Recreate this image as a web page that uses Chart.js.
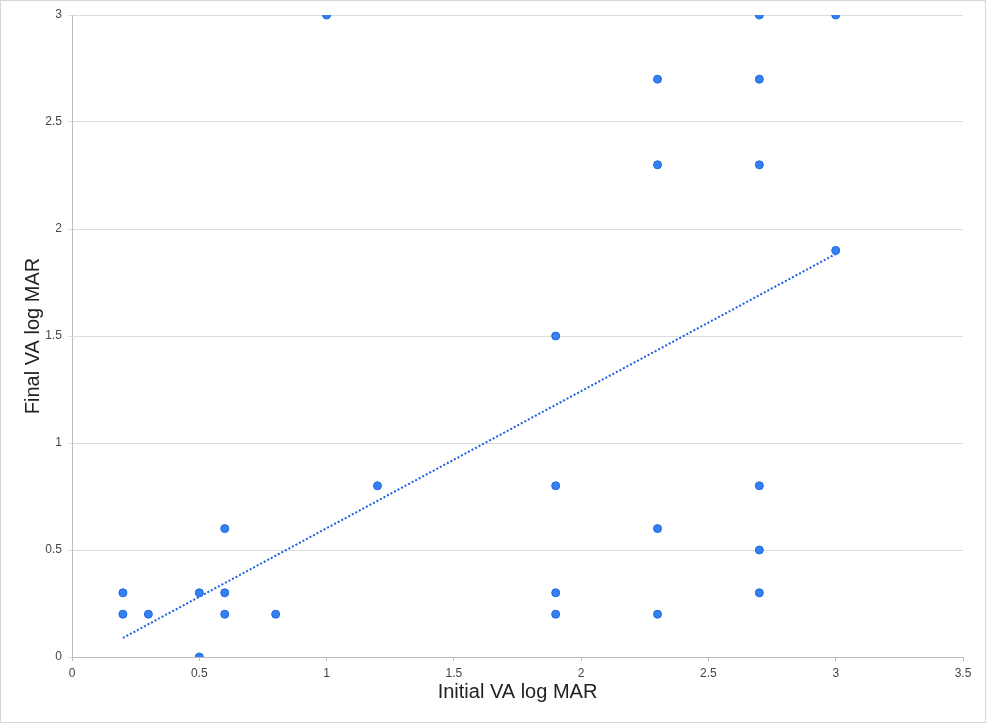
<!DOCTYPE html>
<html>
<head>
<meta charset="utf-8">
<script src="https://cdn.jsdelivr.net/npm/chart.js@4/dist/chart.umd.min.js"></script>
<style>
  html, body { margin: 0; padding: 0; background: #fff; }
  #wrap {
    position: relative;
    width: 986px;
    height: 723px;
    box-sizing: border-box;
    border: 1px solid #d6d6d6;
    background: #fff;
  }
  #chart { position: absolute; left: -1px; top: -1px; }
</style>
</head>
<body>
<div id="wrap">
  <canvas id="chart" width="986" height="723"></canvas>
</div>
<script>
// Initial vs final visual acuity (log MAR), one point per eye
const initialVA = [0.2, 0.2, 0.3, 0.5, 0.5, 0.6, 0.6, 0.6, 0.8, 1.0, 1.2,
  1.9, 1.9, 1.9, 1.9, 2.3, 2.3, 2.3, 2.3, 2.7, 2.7, 2.7, 2.7, 2.7, 2.7, 3.0, 3.0];
const finalVA = [0.3, 0.2, 0.2, 0.3, 0.0, 0.6, 0.3, 0.2, 0.2, 3.0, 0.8,
  1.5, 0.8, 0.3, 0.2, 2.7, 2.3, 0.6, 0.2, 3.0, 2.7, 2.3, 0.8, 0.5, 0.3, 3.0, 1.9];

// Linear trendline end points
const trendX = [0.2, 3.0];
const trendY = [0.089, 1.883];

const xTicks = { min: 0, max: 3.5, step: 0.5 };
const yTicks = { min: 0, max: 3, step: 0.5 };

const points = initialVA.map((x, i) => ({ x: x, y: finalVA[i] }));
const trend = trendX.map((x, i) => ({ x: x, y: trendY[i] }));

const tickFont = { family: 'Arial, "Liberation Sans", sans-serif', size: 12 };
const titleFont = { family: 'Arial, "Liberation Sans", sans-serif', size: 20 };

// plain numbers: 3, 2.5, 2 ... (no trailing .0)
function shortNum(value) { return String(Math.round(value * 10) / 10); }

new Chart(document.getElementById('chart').getContext('2d'), {
  type: 'scatter',
  data: {
    datasets: [{
      label: 'Eyes',
      data: points,
      backgroundColor: '#3381f2',
      borderColor: '#1f68dc',
      borderWidth: 1,
      pointRadius: 4,
      pointHoverRadius: 4
    }, {
      label: 'Trendline',
      type: 'line',
      data: trend,
      showLine: true,
      borderColor: '#1b5fe8',
      borderWidth: 2,
      borderDash: [2, 2],
      pointRadius: 0,
      fill: false
    }]
  },
  options: {
    responsive: false,
    animation: false,
    layout: { padding: { left: 0, right: 23, top: 15, bottom: 0 } },
    plugins: {
      legend: { display: false },
      tooltip: { enabled: false }
    },
    scales: {
      x: {
        type: 'linear',
        min: xTicks.min,
        max: xTicks.max,
        afterFit: function(axis) { axis.height = 66; },
        border: { color: '#bdbdbd', width: 1 },
        grid: { drawOnChartArea: false, drawTicks: true, tickLength: 4, color: '#bdbdbd' },
        ticks: {
          stepSize: xTicks.step,
          color: '#444',
          font: tickFont,
          padding: 5,
          maxRotation: 0,
          callback: shortNum
        },
        title: {
          display: true,
          text: 'Initial VA log MAR',
          color: '#222',
          font: titleFont,
          padding: { top: 0, bottom: 19 }
        }
      },
      y: {
        type: 'linear',
        min: yTicks.min,
        max: yTicks.max,
        afterFit: function(axis) { axis.width = 72; },
        border: { color: '#bdbdbd', width: 1 },
        grid: { color: '#dddddd', drawTicks: true, tickLength: 4 },
        ticks: {
          stepSize: yTicks.step,
          color: '#444',
          font: tickFont,
          padding: 6,
          callback: shortNum
        },
        title: {
          display: true,
          text: 'Final VA log MAR',
          color: '#222',
          font: titleFont,
          padding: { top: 21, bottom: 0 }
        }
      }
    }
  }
});
</script>
</body>
</html>
